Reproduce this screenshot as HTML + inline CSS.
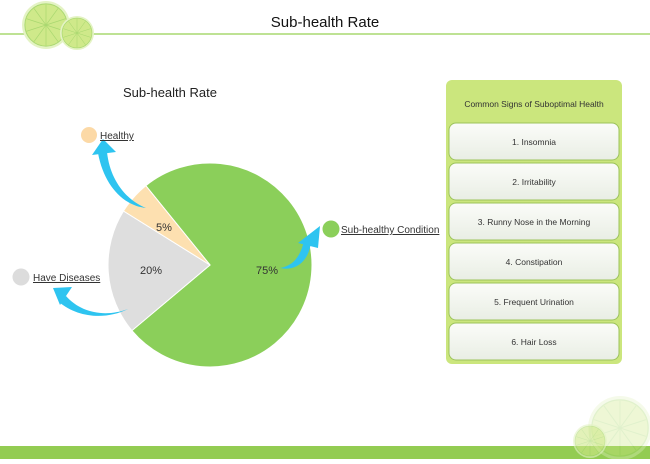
<!DOCTYPE html>
<html><head><meta charset="utf-8"><style>
body{margin:0;width:650px;height:459px;overflow:hidden;background:#fff;font-family:"Liberation Sans",Arial,sans-serif;}
</style></head><body>
<svg width="650" height="459" viewBox="0 0 650 459" xmlns="http://www.w3.org/2000/svg" font-family="Liberation Sans, Arial, sans-serif">
<defs>
<linearGradient id="bx" x1="0" y1="0" x2="0" y2="1"><stop offset="0" stop-color="#fbfcf9"/><stop offset="1" stop-color="#e9eee4"/></linearGradient>
<g id="lime"><circle r="1" fill="#e4f3c4"/><circle r="0.88" fill="#cfe98a" stroke="#a9d870" stroke-width="0.04"/>
<g stroke="#a9d870" stroke-width="0.03"><line x1="0" y1="-0.85" x2="0" y2="0.85"/><line x1="-0.81" y1="-0.26" x2="0.81" y2="0.26"/><line x1="-0.81" y1="0.26" x2="0.81" y2="-0.26"/><line x1="-0.5" y1="-0.69" x2="0.5" y2="0.69"/><line x1="0.5" y1="-0.69" x2="-0.5" y2="0.69"/></g></g>
</defs>
<line x1="0" y1="34" x2="650" y2="34" stroke="#a9d870" stroke-width="1.5"/>
<use href="#lime" transform="translate(46,25) scale(24)"/>
<use href="#lime" transform="translate(77,33) scale(17)"/>
<text x="325" y="27" font-size="15" text-anchor="middle" fill="#111">Sub-health Rate</text>

<rect x="0" y="446" width="650" height="13" fill="#93cc52"/>
<g opacity="0.35"><use href="#lime" transform="translate(620,428) scale(32)"/></g>
<g opacity="0.6"><use href="#lime" transform="translate(590,441) scale(17)"/></g>

<text x="170" y="97" font-size="13" text-anchor="middle" fill="#222">Sub-health Rate</text>

<path d="M210,265 L145.8,185.7 A102,102 0 1 1 131.9,330.6 Z" fill="#8bcf5a" stroke="#fff" stroke-width="1"/>
<path d="M210,265 L131.9,330.6 A102,102 0 0 1 123.5,211 Z" fill="#dedede" stroke="#fff" stroke-width="1"/>
<path d="M210,265 L123.5,211 A102,102 0 0 1 145.8,185.7 Z" fill="#fde0b0" stroke="#fff" stroke-width="1"/>
<text x="164" y="231" font-size="11" fill="#333" text-anchor="middle">5%</text>
<text x="151" y="274" font-size="11" fill="#333" text-anchor="middle">20%</text>
<text x="267" y="274" font-size="11" fill="#333" text-anchor="middle">75%</text>

<g fill="#2ec4f0">
<path d="M146,208 C126,200 110,180 107,152 L98,153 C104,186 124,206 146,208 Z"/>
<polygon points="92,155 103,139 116,152"/>
<path d="M128,309 C104,318 80,312 66,296 L59,302 C78,318 106,320 128,309 Z"/>
<polygon points="53,288 72,287 60,305"/>
<path d="M280,268 C298,272 310,258 311,241 L304,241 C300,258 292,266 280,268 Z"/>
<polygon points="298,243 320,226 318,248"/>
</g>

<circle cx="89" cy="135" r="8" fill="#fcd9a6"/>
<text x="100" y="139" font-size="10" fill="#333" text-decoration="underline">Healthy</text>
<circle cx="21" cy="277" r="8.5" fill="#dcdcdc"/>
<text x="33" y="281" font-size="10" fill="#333" text-decoration="underline">Have Diseases</text>
<circle cx="331" cy="229" r="8.5" fill="#8bcf5a"/>
<text x="341" y="233" font-size="10" fill="#333" text-decoration="underline">Sub-healthy Condition</text>

<rect x="446" y="80" width="176" height="284" rx="6" fill="#cbe67d"/>
<text x="534" y="107" font-size="8.5" text-anchor="middle" fill="#333">Common Signs of Suboptimal Health</text>
<g font-size="8.5" fill="#333" text-anchor="middle">
<rect x="449" y="123" width="170" height="37" rx="7" fill="url(#bx)" stroke="#9cc35c"/>
<text x="534" y="145">1. Insomnia</text>
<rect x="449" y="163" width="170" height="37" rx="7" fill="url(#bx)" stroke="#9cc35c"/>
<text x="534" y="185">2. Irritability</text>
<rect x="449" y="203" width="170" height="37" rx="7" fill="url(#bx)" stroke="#9cc35c"/>
<text x="534" y="225">3. Runny Nose in the Morning</text>
<rect x="449" y="243" width="170" height="37" rx="7" fill="url(#bx)" stroke="#9cc35c"/>
<text x="534" y="265">4. Constipation</text>
<rect x="449" y="283" width="170" height="37" rx="7" fill="url(#bx)" stroke="#9cc35c"/>
<text x="534" y="305">5. Frequent Urination</text>
<rect x="449" y="323" width="170" height="37" rx="7" fill="url(#bx)" stroke="#9cc35c"/>
<text x="534" y="345">6. Hair Loss</text>
</g>
</svg>
</body></html>
